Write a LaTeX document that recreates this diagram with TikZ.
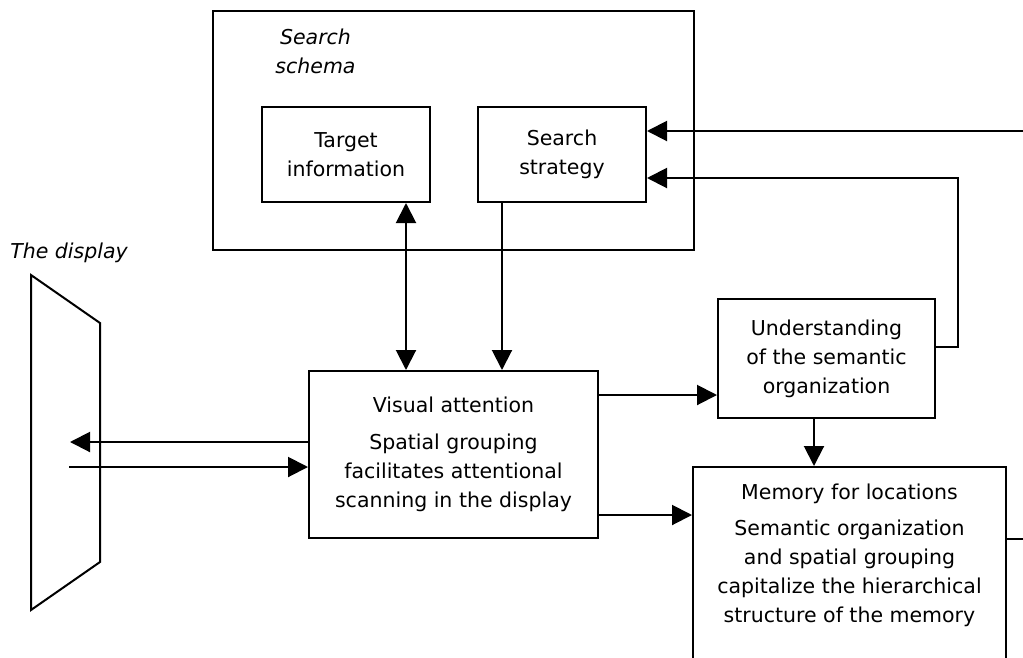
\documentclass[tikz,border=0pt]{standalone}
\usepackage{fontspec}
\setmainfont{DejaVu Sans}
\usetikzlibrary{arrows.meta, positioning}

\begin{document}
\begin{tikzpicture}[
    x=1pt, y=-1pt,
    every node/.style={font=\fontsize{20.5}{29}\selectfont},
    box/.style={
        rectangle,
        draw,
        line width=2pt,
        align=center,
        inner sep=0pt
    },
    heading/.style={
        font=\fontsize{20.5}{29}\selectfont\itshape,
        align=center,
        inner sep=0pt
    },
    link/.style={line width=2pt},
    arrow/.style={line width=2pt, -{Triangle[length=20pt, width=20pt]}},
    dblarrow/.style={line width=2pt, {Triangle[length=20pt, width=20pt]}-{Triangle[length=20pt, width=20pt]}}
]

\useasboundingbox (0,0) rectangle (1023,657);

\node[box, minimum width=481pt, minimum height=239pt] (schema) at (453.5,130.5) {};
\node[heading] (schematitle) at (315.5,51) {Search\\schema};
\node[box, minimum width=168pt, minimum height=95pt] (target) at (346,154.5) {Target\\information};
\node[box, minimum width=168pt, minimum height=95pt] (strat) at (562,154.5) {Search\\strategy};

\node[heading] (displaytitle) at (69,253) {The display};
\draw[link] (31,275) -- (100,323) -- (100,562) -- (31,610) -- cycle;

\node[box, minimum width=289pt, minimum height=167pt] (va) at (453.5,454.5) {Visual attention\\[8pt]Spatial grouping\\facilitates attentional\\scanning in the display};
\node[box, minimum width=217pt, minimum height=119pt] (under) at (826.5,358.5) {Understanding\\of the semantic\\organization};
\node[box, minimum width=313pt, minimum height=233pt] (mem) at (849.5,583.5) {};
\node[anchor=north, align=center, inner sep=0pt] (memtxt) at (849.5,484) {Memory for locations\\[7pt]Semantic organization\\and spatial grouping\\capitalize the hierarchical\\structure of the memory};

\coordinate (dispin) at (70,442);
\coordinate (dispout) at (69,467);
\coordinate (extin) at (1023,131);
\coordinate (extout) at (1023,539);
\coordinate (fb) at (958,347);

\draw[arrow] (va.west |- dispin) -- (dispin);
\draw[arrow] (dispout) -- (va.west |- dispout);
\draw[dblarrow] (target.south -| 406,0) -- (va.north -| 406,0);
\draw[arrow] (strat.south -| 502,0) -- (va.north -| 502,0);
\draw[arrow] (va.east |- 0,395) -- (under.west |- 0,395);
\draw[arrow] (va.east |- 0,515) -- (mem.west |- 0,515);
\draw[arrow] (under.south -| 814,0) -- (mem.north -| 814,0);
\draw[arrow] (extin) -- (strat.east |- extin);
\draw[arrow] (under.east |- fb) -- (fb) -- (fb |- 0,178) -- (strat.east |- 0,178);
\draw[link] (mem.east |- extout) -- (extout);

\end{tikzpicture}
\end{document}
